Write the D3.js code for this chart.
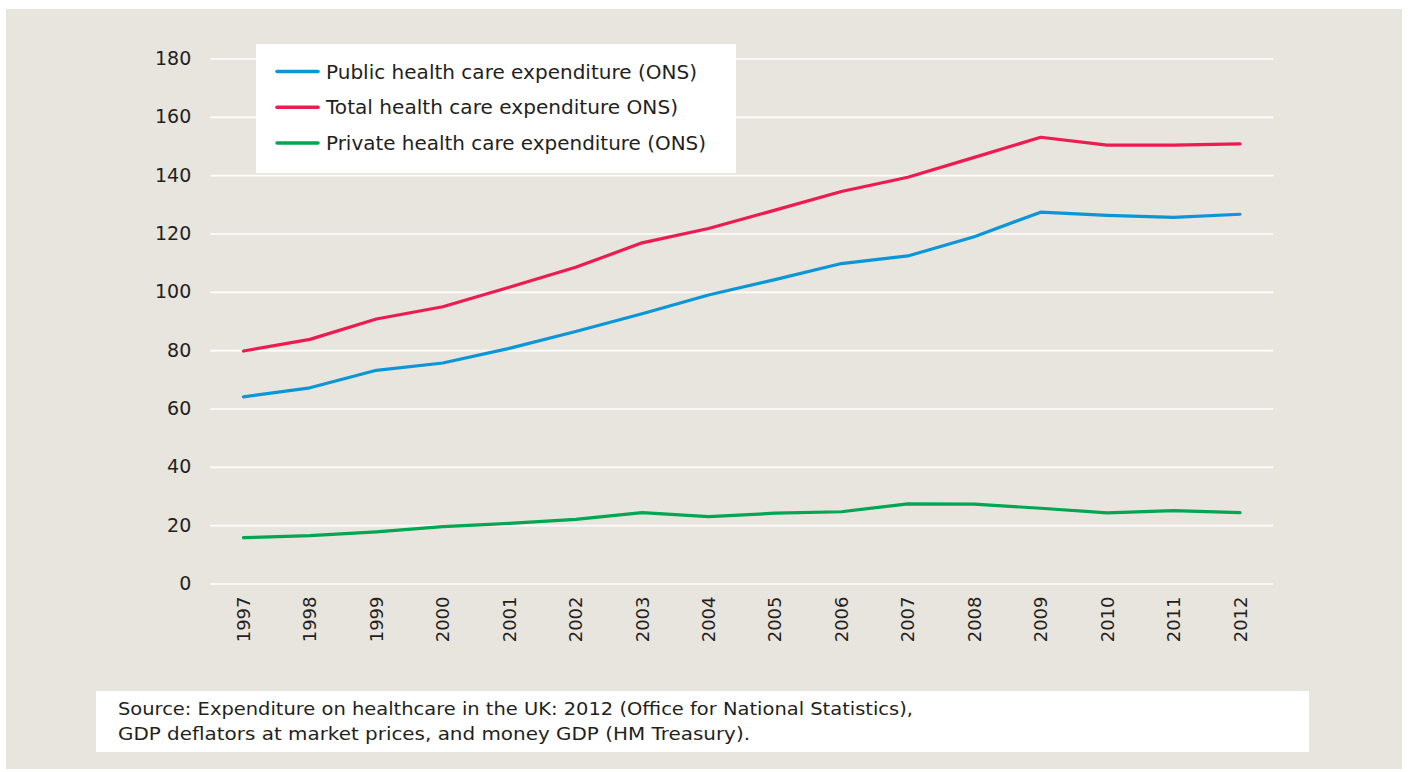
<!DOCTYPE html>
<html>
<head>
<meta charset="utf-8">
<script src="https://cdn.jsdelivr.net/npm/d3@7"></script>
<style>
  html, body { margin: 0; padding: 0; background: #ffffff; }
  svg { display: block; font-family: "DejaVu Sans", sans-serif; }
</style>
</head>
<body>
<svg id="chart" width="1408" height="772"></svg>
<script>
const years = ["1997","1998","1999","2000","2001","2002","2003","2004","2005","2006","2007","2008","2009","2010","2011","2012"];
const publicExp  = [64.0, 67.1, 73.1, 75.6, 80.6, 86.4, 92.5, 98.9, 104.2, 109.7, 112.3, 118.9, 127.3, 126.2, 125.5, 126.6];
const totalExp   = [79.7, 83.7, 90.7, 94.9, 101.6, 108.4, 116.8, 121.7, 128.0, 134.4, 139.3, 146.1, 153.0, 150.3, 150.3, 150.7];
const privateExp = [15.7, 16.4, 17.7, 19.5, 20.6, 22.0, 24.3, 22.9, 24.1, 24.6, 27.3, 27.2, 25.8, 24.2, 25.0, 24.3];
const yTicks = [0, 20, 40, 60, 80, 100, 120, 140, 160, 180];
const seriesNames = ["Public health care expenditure (ONS)", "Total health care expenditure ONS)", "Private health care expenditure (ONS)"];
const seriesColors = ["#0b96d8", "#ee1b50", "#00a651"];
const sourceLines = [
  "Source: Expenditure on healthcare in the UK: 2012 (Office for National Statistics),",
  "GDP deflators at market prices, and money GDP (HM Treasury)."
];

const svg = d3.select("#chart");
const textColor = "#231f20";

// background panel
svg.append("rect").attr("x", 6).attr("y", 9).attr("width", 1396).attr("height", 760).attr("fill", "#e8e4de");

const x = d3.scalePoint().domain(years).range([243.5, 1240]);
const step = x.step();
const y = d3.scaleLinear().domain([0, 180]).range([583.5, 58.5]);

// gridlines + y labels
const yAxis = d3.axisLeft(y).tickValues(yTicks).tickSize(-(1240 - 243.5 + step)).tickPadding(18);
const gy = svg.append("g").attr("transform", `translate(${243.5 - step / 2},0)`).call(yAxis);
gy.select(".domain").remove();
gy.selectAll(".tick line").attr("stroke", "#ffffff").attr("stroke-width", 1.6);
gy.selectAll(".tick text").attr("fill", textColor).attr("font-size", 19).attr("font-family", "DejaVu Sans, sans-serif").attr("x", -19);

// x axis labels
const xAxis = d3.axisBottom(x).tickSize(0).tickPadding(0);
const gx = svg.append("g").attr("transform", `translate(0,${y(0)})`).call(xAxis);
gx.select(".domain").remove();
gx.selectAll(".tick text")
  .attr("fill", textColor)
  .attr("font-size", 18)
  .attr("font-family", "DejaVu Sans, sans-serif")
  .attr("text-anchor", "end")
  .attr("dy", null)
  .attr("y", 0)
  .attr("transform", "translate(6,13) rotate(-90)");

// lines
const allSeries = [publicExp, totalExp, privateExp];
const line = d3.line().x((d, i) => x(years[i])).y(d => y(d));
allSeries.forEach((s, k) => {
  svg.append("path")
    .datum(s)
    .attr("d", line)
    .attr("fill", "none")
    .attr("stroke", seriesColors[k])
    .attr("stroke-width", 3.2)
    .attr("stroke-linejoin", "round")
    .attr("stroke-linecap", "round");
});

// legend
const legendWidths = [371, 352, 380];
const lg = svg.append("g");
lg.append("rect").attr("x", 256).attr("y", 44).attr("width", 480).attr("height", 129).attr("fill", "#ffffff");
seriesNames.forEach((name, k) => {
  const cy = 71.5 + k * 35.7;
  lg.append("line").attr("x1", 277).attr("x2", 318).attr("y1", cy).attr("y2", cy)
    .attr("stroke", seriesColors[k]).attr("stroke-width", 3.5).attr("stroke-linecap", "round");
  lg.append("text").attr("x", 326).attr("y", cy).attr("dy", "0.36em")
    .attr("fill", textColor).attr("font-size", 19.5)
    .attr("textLength", legendWidths[k]).attr("lengthAdjust", "spacingAndGlyphs")
    .text(name);
});

// source box
const sourceWidths = [795, 632];
const sg = svg.append("g");
sg.append("rect").attr("x", 96).attr("y", 691).attr("width", 1213).attr("height", 61).attr("fill", "#ffffff");
sourceLines.forEach((t, i) => {
  sg.append("text").attr("x", 118).attr("y", 715 + i * 25).attr("fill", textColor).attr("font-size", 18.5)
    .attr("textLength", sourceWidths[i]).attr("lengthAdjust", "spacingAndGlyphs")
    .text(t);
});
</script>
</body>
</html>
